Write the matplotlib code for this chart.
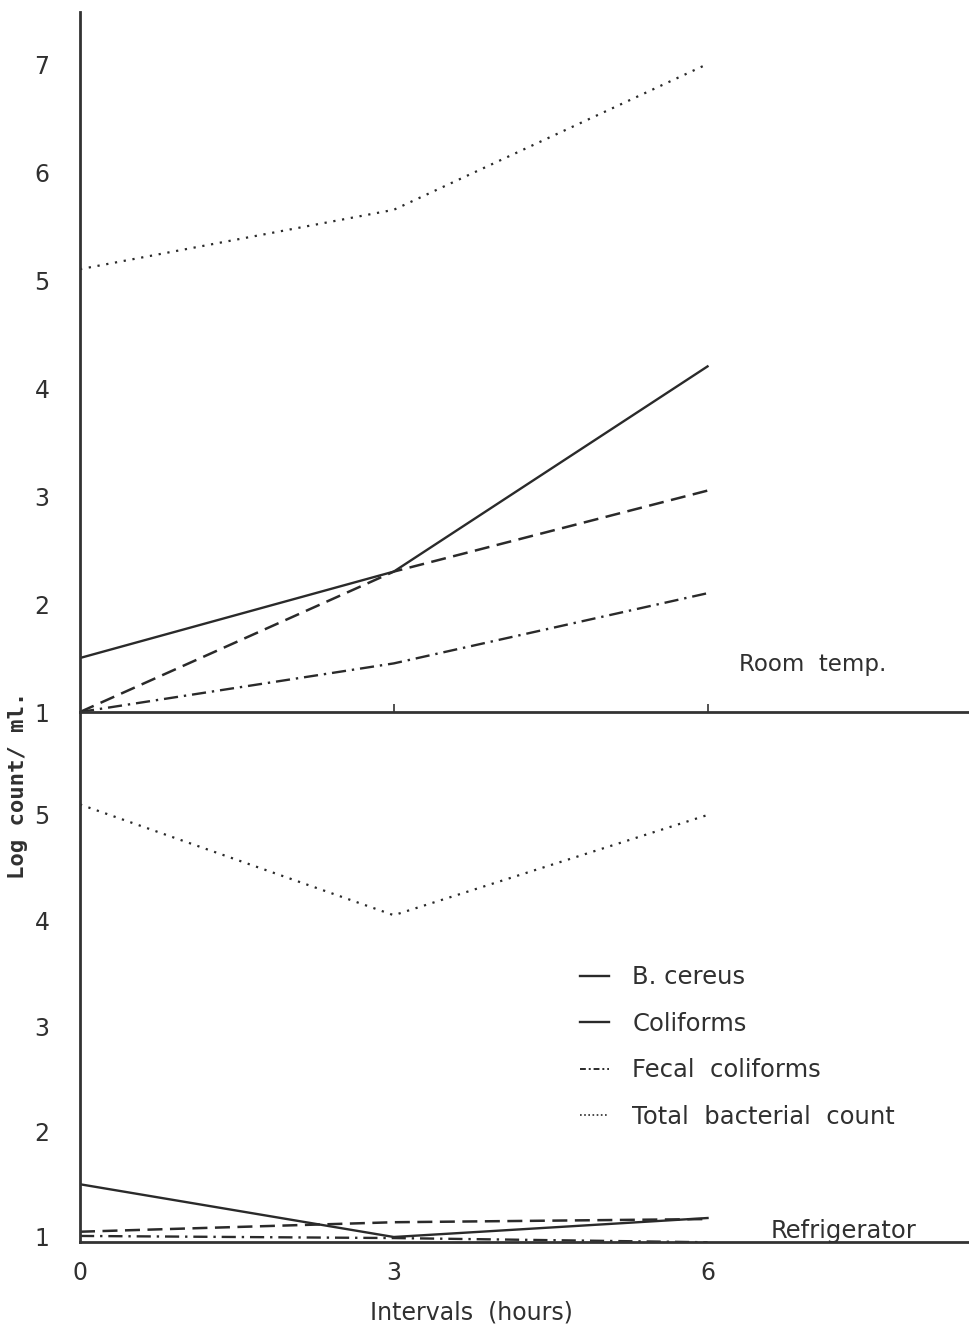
import matplotlib.pyplot as plt
from matplotlib.lines import Line2D

# data
hours = [0, 3, 6]
series = ['B. cereus', 'Coliforms', 'Fecal  coliforms', 'Total  bacterial  count']

room_bcereus = [1.5, 2.3, 4.2]
room_coliforms = [1.0, 2.3, 3.05]
room_fecal = [1.0, 1.45, 2.1]
room_total = [5.1, 5.65, 7.0]

fridge_bcereus = [1.5, 1.0, 1.18]
fridge_coliforms = [1.05, 1.14, 1.17]
fridge_fecal = [1.01, 0.99, 0.95]
fridge_total = [5.1, 4.05, 5.0]

room_ticks = [1, 2, 3, 4, 5, 6, 7]
fridge_ticks = [1, 2, 3, 4, 5]

ink = '#2a2a2a'
txt = '#303030'
styles = {
    'solid': dict(ls='-', lw=1.7),
    'dash': dict(ls=(0, (6, 3)), lw=1.8),
    'dashdot': dict(ls=(0, (6, 2.5, 1, 2.5)), lw=1.7),
    'dot': dict(ls=(0, (1, 3)), lw=1.6),
}

text_font = 'DejaVu Sans'
fig = plt.figure(figsize=(9.69, 13.3), dpi=100)
fig.patch.set_facecolor('white')

W, H = 969, 1330
left = 80 / W
ax_top = fig.add_axes([left, 1 - 712 / H, 1 - left, 700 / H])
ax_bot = fig.add_axes([left, 1 - 1242 / H, 1 - left, 530 / H])


def draw(ax, vals):
    b, c, f, t = vals
    ax.plot(hours, b, color=ink, **styles['solid'])
    ax.plot(hours, c, color=ink, **styles['dash'])
    ax.plot(hours, f, color=ink, **styles['dashdot'])
    ax.plot(hours, t, color=ink, **styles['dot'])


draw(ax_top, [room_bcereus, room_coliforms, room_fecal, room_total])
draw(ax_bot, [fridge_bcereus, fridge_coliforms, fridge_fecal, fridge_total])

for ax in (ax_top, ax_bot):
    ax.set_xlim(0, 8.5)
    for s in ('top', 'right'):
        ax.spines[s].set_visible(False)
    for s in ('left', 'bottom'):
        ax.spines[s].set_color('#333333')
        ax.spines[s].set_linewidth(2)
    ax.set_facecolor('none')
    ax.tick_params(axis='y', length=0, pad=22, labelsize=17, labelcolor=txt)
    for lab in ax.get_yticklabels():
        lab.set_fontfamily(text_font)

ax_top.set_ylim(1, 1 + 700 / 108)
ax_top.set_yticks(room_ticks)
ax_top.set_xticks([3, 6])
ax_top.tick_params(axis='x', direction='in', length=6, width=1.2, color='#333333', labelbottom=False)

ax_bot.set_ylim(1 - 5 / 105.5, 1 + 525 / 105.5)
ax_bot.set_yticks(fridge_ticks)
ax_bot.set_xticks(hours)
ax_bot.tick_params(axis='x', length=0, pad=14, labelsize=17, labelcolor=txt)
ax_bot.set_xlabel('Intervals  (hours)', fontsize=17, family=text_font, color=txt)
ax_bot.xaxis.set_label_coords(0.44, -0.11)

ax_top.text(6.3, 1.38, 'Room  temp.', fontsize=16.5, family=text_font, color=txt)
ax_bot.text(6.6, 0.99, 'Refrigerator', fontsize=17.5, family=text_font, color=txt)

fig.text(18 / W, 1 - 785 / H, 'Log count/ ml.', rotation=90, ha='center', va='center',
         fontsize=16, family='DejaVu Sans Mono', fontweight='bold', color=txt)

handles = [
    Line2D([], [], color=ink, **styles['solid']),
    Line2D([], [], color=ink, **styles['solid']),
    Line2D([], [], color=ink, ls=(0, (3, 1.5, 1, 1.5)), lw=1.4),
    Line2D([], [], color=ink, ls=(0, (1, 1.5)), lw=1.2),
]
leg = ax_bot.legend(handles, series, loc='upper left', bbox_to_anchor=(0.538, 0.563),
                    frameon=False, handlelength=1.2, handletextpad=0.95,
                    labelspacing=0.92, prop={'family': text_font, 'size': 17.5})
for t in leg.get_texts():
    t.set_color(txt)

fig.savefig('out.png', dpi=100, facecolor='white')
